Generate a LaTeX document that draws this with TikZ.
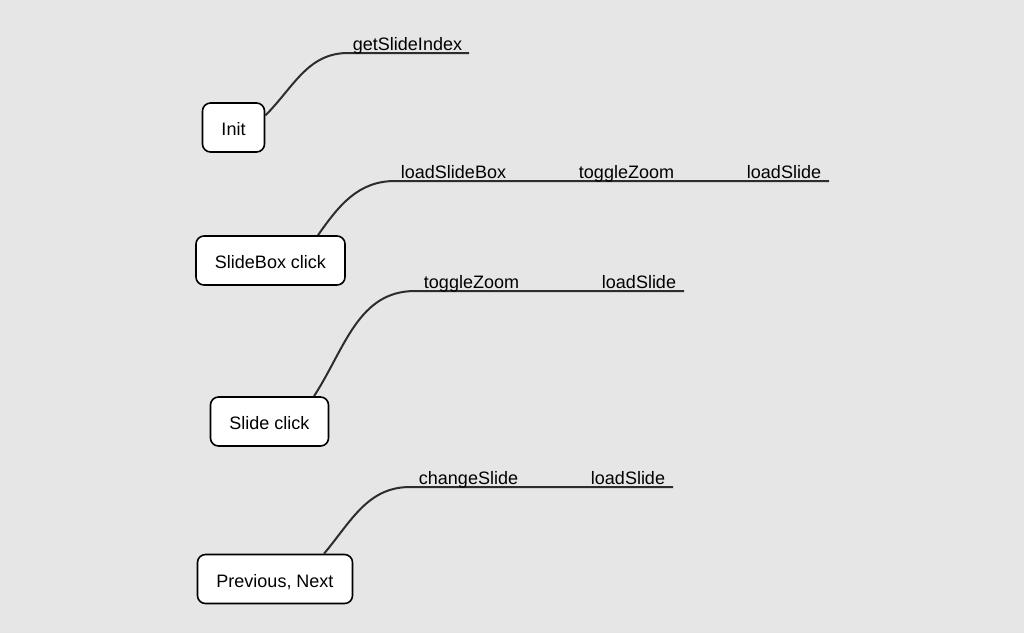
\documentclass[tikz,border=0pt]{standalone}
\usepackage{fontspec}
\setmainfont{Liberation Sans}
\usetikzlibrary{positioning}
\definecolor{paper}{RGB}{230,230,230}
\definecolor{ink}{RGB}{45,45,45}

\begin{document}
\begin{tikzpicture}[x=1pt,y=-1pt,
  event/.style={draw,fill=white,line width=1.6pt,rounded corners=8pt,
    minimum height=49pt,inner xsep=19pt,text height=16pt,text depth=0pt,
    font=\fontsize{18}{21}\selectfont},
  call/.style={anchor=base,inner sep=0pt,font=\fontsize{18}{21}\selectfont},
  branch/.style={draw=ink,line width=2pt}]

  \fill[paper] (0,0) rectangle (1024,633);
  \useasboundingbox (0,0) rectangle (1024,633);

  \node[event] (init) at (233.5,127.5) {Init};
  \node[event] (slidebox) at (270.5,260.5) {SlideBox click};
  \node[event] (slide) at (269.5,421.5) {Slide click};
  \node[event] (prevnext) at (275,579) {Previous, Next};

  % branch starts and ends
  \coordinate (init-in) at (348,53);
  \coordinate (init-end) at (469,53);
  \coordinate (slidebox-in) at (395,181);
  \coordinate (slidebox-end) at (829,181);
  \coordinate (slide-in) at (415,291);
  \coordinate (slide-end) at (684,291);
  \coordinate (prevnext-in) at (410,487);
  \coordinate (prevnext-end) at (673,487);

  \draw[branch] ([yshift=12pt]init.east) to[out=45,in=180] (init-in) -- (init-end);
  \draw[branch] ([xshift=47.5pt]slidebox.north) to[out=55,in=180] (slidebox-in) -- (slidebox-end);
  \draw[branch] ([xshift=44.5pt]slide.north) to[out=57,in=180] (slide-in) -- (slide-end);
  \draw[branch] ([xshift=49pt]prevnext.north) to[out=50,in=180] (prevnext-in) -- (prevnext-end);

  % calls
  \node[call] (getidx) at (407.5,50) {getSlideIndex};
  \node[call] (loadbox) at (453.5,178) {loadSlideBox};
  \node[call] (zoom1) at (626.5,178) {toggleZoom};
  \node[call] (load1) at (784,178) {loadSlide};
  \node[call] (zoom2) at (471.5,288) {toggleZoom};
  \node[call] (load2) at (639,288) {loadSlide};
  \node[call] (change) at (468.5,484) {changeSlide};
  \node[call] (load3) at (628,484) {loadSlide};
\end{tikzpicture}
\end{document}
